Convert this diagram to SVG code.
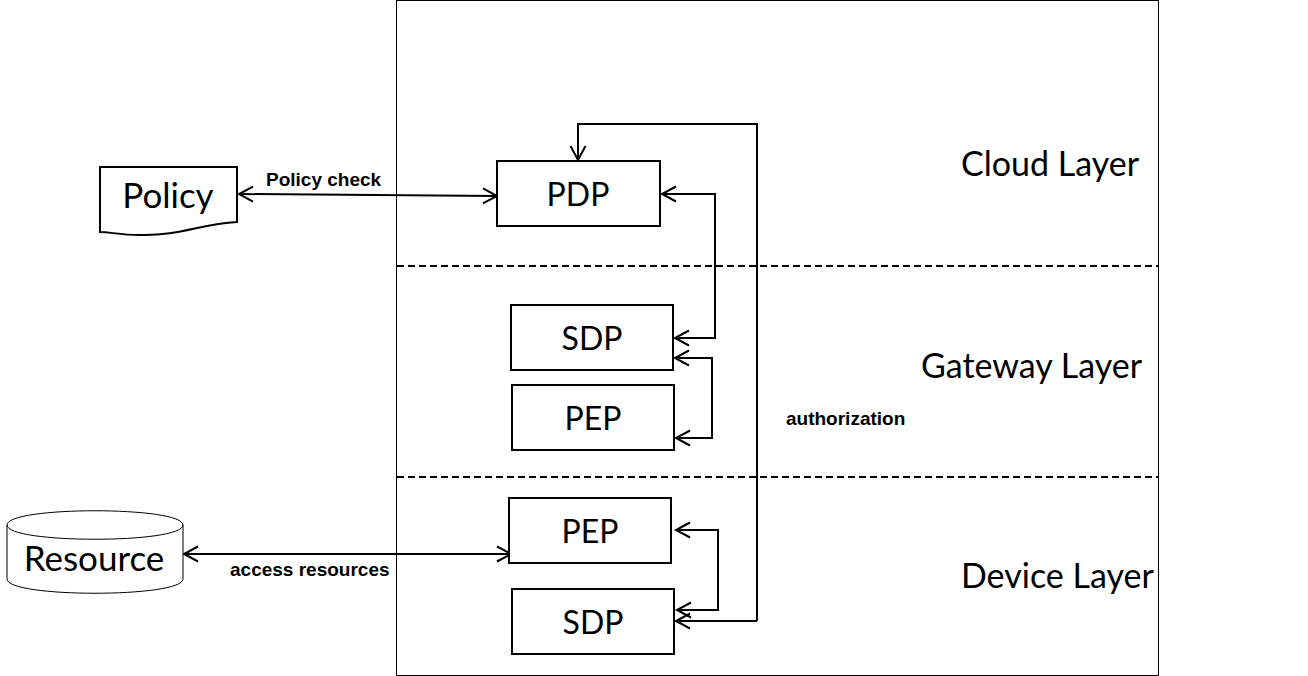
<svg xmlns="http://www.w3.org/2000/svg" width="1308" height="676" viewBox="0 0 1308 676">
<defs>
<style>
.n{fill:#fff;stroke:#000;stroke-width:2}
.t{font-family:"Lato","Open Sans",sans-serif;font-size:32px;fill:#000;text-anchor:middle}
.w{font-size:35px}
.l{font-family:"Lato","Open Sans",sans-serif;font-size:34px;fill:#000}
.b{font-family:"Liberation Sans",Arial,sans-serif;font-size:19px;font-weight:bold;fill:#000}
.c{fill:none;stroke:#000;stroke-width:2}
.d{fill:none;stroke:#000;stroke-width:2;stroke-dasharray:7 4}
</style>
<marker id="a" markerUnits="userSpaceOnUse" markerWidth="18" markerHeight="20" refX="15" refY="9" orient="auto-start-reverse" overflow="visible">
<path d="M1 1.5L15 9L1 16.500" fill="none" stroke="#000" stroke-width="2"/>
</marker>
</defs>
<rect x="0" y="0" width="1308" height="676" fill="#fff"/>
<g id="frame"><rect x="396.500" y="0.500" width="762" height="675" fill="#fff" stroke="#000" stroke-width="1"/></g>
<g id="layers">
<path class="d" d="M397 266H1158"/>
<path class="d" d="M397 477H1158"/>
<text class="l" x="961" y="176">Cloud Layer</text>
<text class="l" x="921" y="378">Gateway Layer</text>
<text class="l" x="961" y="588">Device Layer</text>
</g>
<g id="connectors">
<path class="c" d="M239 194L497 196" marker-start="url(#a)" marker-end="url(#a)"/>
<path class="c" d="M184 554H511" marker-start="url(#a)" marker-end="url(#a)"/>
<path class="c" d="M757 621V124H578V160" marker-end="url(#a)"/>
<path class="c" d="M662 194H715V338H675" marker-start="url(#a)" marker-end="url(#a)"/>
<path class="c" d="M675 358H712V438H676" marker-start="url(#a)" marker-end="url(#a)"/>
<path class="c" d="M676 530H718V610H677" marker-start="url(#a)" marker-end="url(#a)"/>
<path class="c" d="M757 621H676" marker-end="url(#a)"/>
</g>
<g id="policy">
<path class="n" d="M100 167H237V222C200 224 180 236 140 235C120 235 110 232 100 232Z"/>
<text class="t w" x="168" y="208">Policy</text>
</g>
<g id="resource">
<path d="M7 525C7 506 183 506 183 525V579C183 598 7 598 7 579Z" fill="#fff" stroke="#000" stroke-width="1"/>
<path d="M7 525C7 544 183 544 183 525" fill="none" stroke="#000" stroke-width="1"/>
<text class="t w" x="94" y="571">Resource</text>
</g>
<g id="pdp"><rect class="n" x="497" y="161" width="163" height="65"/><text class="t" x="578" y="206">PDP</text></g>
<g id="sdp-gateway"><rect class="n" x="511" y="305" width="162" height="65"/><text class="t" x="592" y="350">SDP</text></g>
<g id="pep-gateway"><rect class="n" x="512" y="385" width="162" height="65"/><text class="t" x="593" y="430">PEP</text></g>
<g id="pep-device"><rect class="n" x="509" y="498" width="162" height="65"/><text class="t" x="590" y="543">PEP</text></g>
<g id="sdp-device"><rect class="n" x="512" y="589" width="162" height="65"/><text class="t" x="593" y="634">SDP</text></g>
<g id="labels">
<text class="b" x="266" y="186">Policy check</text>
<text class="b" x="230" y="576">access resources</text>
<text class="b" x="786" y="425">authorization</text>
</g>
</svg>
